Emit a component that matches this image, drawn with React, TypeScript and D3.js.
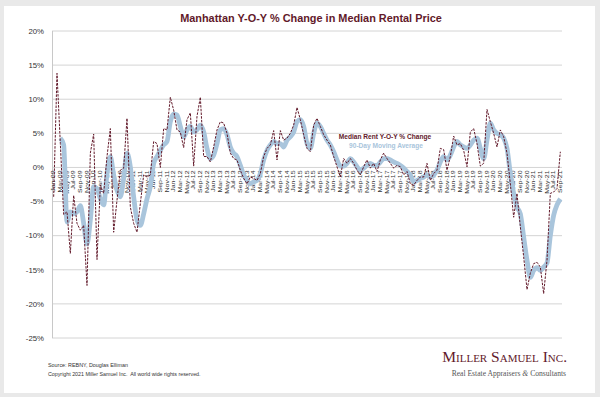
import * as d3 from "d3";

// monthly, Jan-09 .. Sep-21
const startMonth = new Date(2009, 0, 1);
const endMonth = new Date(2021, 9, 1);

const rentYoY = [
  -4.3, 13.8, 3.5, -6.9, -6.5, -12.6, -4.1, -8.2, -9.2, -8.5,
  -17.3, 2.1, 4.9, -13.5, -2.6, -3.8, 1.6, 5.7, -9.5, -4.8,
  -0.4, -0.1, 7.2, -5.8, -8.2, -9.5, -5.3, -1.1, -1.4, -1.1,
  3.8, 3.5, 0, 5.7, 5.5, 10.3, 8.4, 5.5, 5.2, 2.9,
  7, 8, 0.2, 7.5, 10.3, 1.6, 1.6, 0.8, 3, 5.5,
  6.7, 6.5, 5, 2.1, 1.3, 1.1, -0.4, -1.6, -2.4, -1.4,
  -1.6, -1.9, -0.9, 1.6, 2.8, 3.3, 5.4, 1.1, 5.4, 4,
  4.3, 5, 6.2, 8.8, 7, 4.8, 2.8, 2.3, 6.2, 7.2,
  6, 4.8, 4, 3.3, 1.6, 0.1, -1.4, 1.3, 0.6, 1.3,
  0.6, -0.4, -1.1, 0.1, 1.1, -0.1, 0.6, -0.6, 1.1, 2.1,
  1.3, 0.6, -0.1, 0.3, 0.1, -1.1, -0.6, -2.4, -2.6, -1.9,
  -1.4, -1.4, 0.6, -1.9, -0.9, -0.4, 2.8, 2.6, -0.4, 1.6,
  4.6, 3.3, 3.5, 2.5, 0.1, 5.2, 5.7, 3.5, 0.2, 0.6,
  8.5, 6.7, 5, 3, 5.5, 4.5, 2.1, -2.4, -7.3, -3.8,
  -8.7, -13.1, -17.9, -15.5, -14.1, -13.9, -14.6, -18.5, -13.6, -3.8,
  -3.6, -3.1, 2.3,
];

const movingAvg = [
  null, null, 4.3, 3.3, -8.0, -6.5, -6.8, -6.5, -5.6, -8.2,
  -11.2, -7.7, -2.8, -3.1, -4.6, -5.5, -0.9, 1.6, -1.1, -3.3,
  -4.3, -1.6, 2.1, 0.1, -4.3, -7.7, -8.5, -6.8, -4.6, -2.8,
  0.6, 1.6, 2.5, 3.3, 3.8, 6.7, 7.8, 7.7, 6, 4.5,
  5.5, 6, 5.2, 5.5, 6.2, 5.2, 2.8, 1.3, 1.8, 3.5,
  5.5, 5.7, 4.8, 3, 2.1, 1.6, 0.3, -1.1, -1.9, -2.4,
  -2.1, -1.9, -0.9, 1.1, 2.5, 3.3, 3.8, 3.5, 3.5, 3,
  4, 4.5, 5.2, 6.7, 7, 6, 3.5, 2.8, 5, 6.5,
  6, 5, 4, 3.3, 2.3, 1.1, 0.2, 0.2, 0.6, 1.3,
  0.8, 0.1, -0.4, -0.1, 0.3, 0.6, 0.3, 0.3, 0.8, 1.3,
  1.3, 1.1, 0.8, 0.6, 0.3, -0.1, -0.6, -1.1, -2.1, -1.9,
  -1.6, -1.4, -1.1, -1.4, -1.1, -0.4, 0.8, 1.6, 1.1, 1.8,
  3, 3.8, 3.3, 3, 2.8, 3.3, 4, 4.3, 2.8, 1.3,
  4, 6.5, 5.5, 5, 4.8, 4.3, 2.8, -0.9, -3.8, -5.8,
  -6.8, -10.2, -13.6, -16.1, -15.1, -14.7, -15.1, -14.6, -14, -10,
  -7, -5.5, -4.6,
];

const yTicks = [20, 15, 10, 5, 0, -5, -10, -15, -20, -25];

const titleText = "Manhattan Y-O-Y % Change in Median Rental Price";
const seriesNames = ["Median Rent Y-O-Y % Change", "90-Day Moving Average"];
const sourceNote = "Source: REBNY, Douglas Elliman";
const copyrightNote = "Copyright 2021 Miller Samuel Inc.  All world wide rights reserved.";

const W = 600;
const H = 397;
const red = "#62192a";
const blue = "#a9c5dc";

export default function App() {
  const months = d3.timeMonth.range(startMonth, endMonth);
  const fmt = d3.timeFormat("%b-%y");

  const x = d3
    .scaleBand<number>()
    .domain(months.map((d, i) => i))
    .range([52, 562]);
  const y = d3.scaleLinear().domain([-25, 20]).range([338, 31]);
  const cx = (i: number) => (x(i) as number) + x.bandwidth() / 2;

  const rentLine = d3
    .line<number>()
    .x((d, i) => cx(i))
    .y((d) => y(d));

  const avgLine = d3
    .line<number | null>()
    .defined((d) => d !== null)
    .x((d, i) => cx(i))
    .y((d) => y(d as number))
    .curve(d3.curveMonotoneX);

  return (
    <svg
      width={W}
      height={H}
      style={{ position: "absolute", left: 0, top: 0 }}
      fontFamily="'Liberation Sans', Arial, sans-serif"
    >
      <rect width={W} height={H} fill="#e9e9e9" />
      <rect x={4} y={6} width={591} height={387} fill="#fff" />

      <text x={311} y={22} textAnchor="middle" fontSize={10.9} fontWeight="bold" fill={red}>
        {titleText}
      </text>

      {/* grid + y labels */}
      {yTicks.map((t) => (
        <g key={t}>
          <line x1={52} x2={562} y1={y(t)} y2={y(t)} stroke="#d4d4d4" strokeWidth={1} />
          <text x={44} y={y(t) + 2.8} textAnchor="end" fontSize={7.8} fill="#333">
            {t + "%"}
          </text>
        </g>
      ))}
      <line x1={52.5} x2={52.5} y1={31} y2={338} stroke="#c8c8c8" />

      {/* x labels every 2nd month, sitting on 0% */}
      {months.map((m, i) =>
        i % 2 === 0 ? (
          <text
            key={i}
            transform={`translate(${cx(i) + 1.6},${y(0) + 3}) rotate(-90) scale(1,0.68)`}
            textAnchor="end"
            fontSize={7}
            fill="#333"
          >
            {fmt(m)}
          </text>
        ) : null
      )}

      <path d={avgLine(movingAvg) ?? ""} fill="none" stroke={blue} strokeWidth={4.8} strokeLinejoin="round" />
      <path d={rentLine(rentYoY) ?? ""} fill="none" stroke={red} strokeWidth={1} strokeDasharray="2.5,1.2" />

      {/* legend */}
      <text x={385} y={139} textAnchor="middle" fontSize={6.6} fontWeight="bold" fill={red}>
        {seriesNames[0]}
      </text>
      <text x={386} y={148} textAnchor="middle" fontSize={6.6} fontWeight="bold" fill={blue}>
        {seriesNames[1]}
      </text>

      <text x={48} y={367} fontSize={5.4} fill="#333">
        {sourceNote}
      </text>
      <text x={48} y={376} fontSize={5.3} fill="#333" style={{ whiteSpace: "pre" }}>
        {copyrightNote}
      </text>

      <text
        x={567}
        y={362}
        textAnchor="end"
        fontFamily="'Liberation Serif', 'DejaVu Serif', serif"
        fontSize={15.5}
        fill={red}
        style={{ fontVariant: "small-caps" }}
      >
        Miller Samuel Inc.
      </text>
      <text
        x={566}
        y={376}
        textAnchor="end"
        fontFamily="'Liberation Serif', 'DejaVu Serif', serif"
        fontSize={7.6}
        fill="#555"
      >
        Real Estate Appraisers <tspan fontStyle="italic">&amp;</tspan> Consultants
      </text>
    </svg>
  );
}
